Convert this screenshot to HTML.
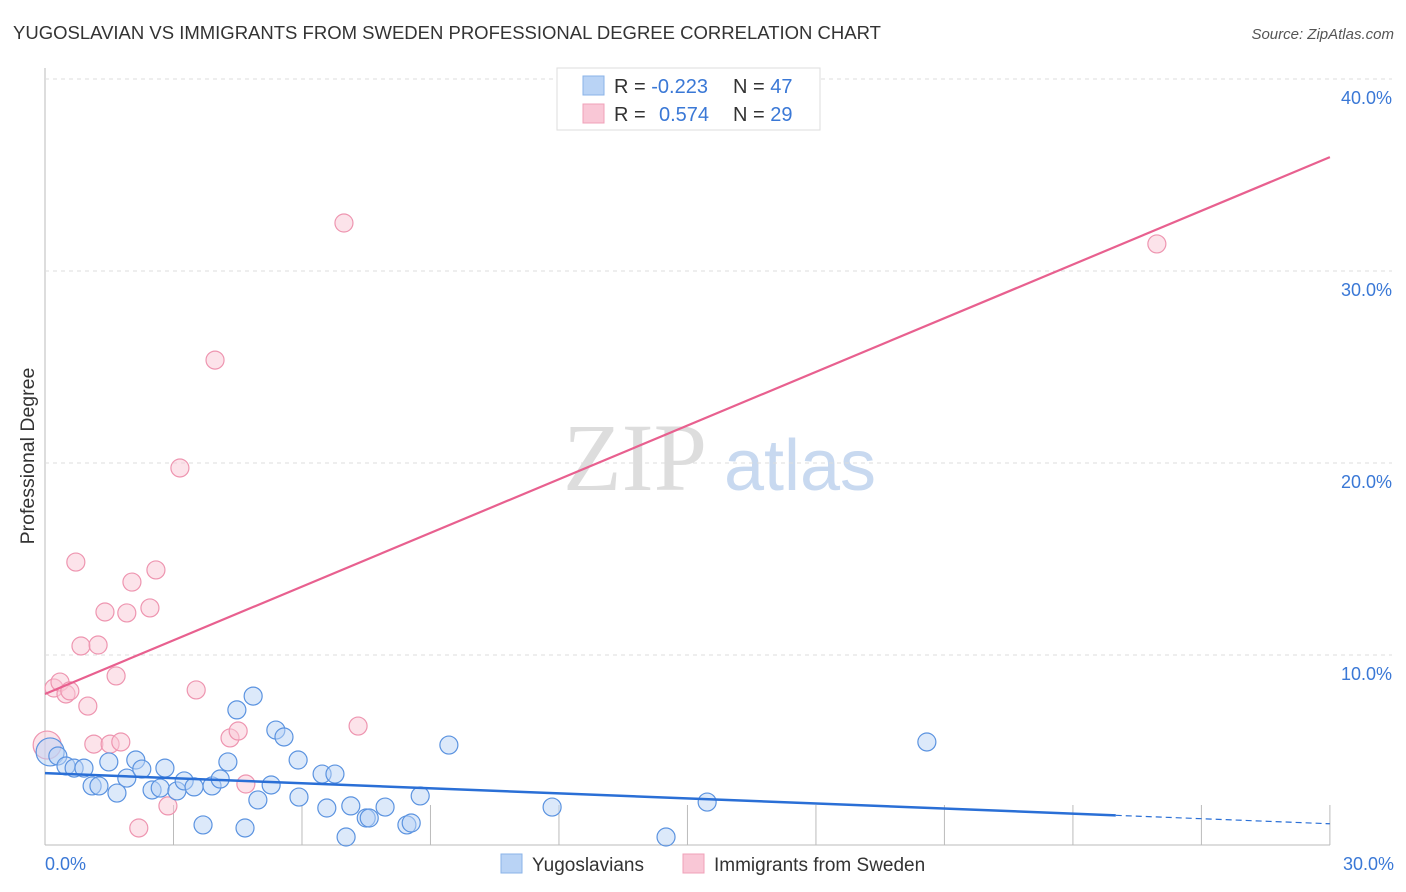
<!DOCTYPE html>
<html><head><meta charset="utf-8"><style>
body{margin:0;background:#fff;font-family:"Liberation Sans",sans-serif;}
svg{display:block}
</style></head><body>
<svg id="c" width="1406" height="892">
<text x="13" y="39" font-size="18.5" fill="#333">YUGOSLAVIAN VS IMMIGRANTS FROM SWEDEN PROFESSIONAL DEGREE CORRELATION CHART</text>
<text x="1394" y="39" font-size="15" fill="#555" font-style="italic" text-anchor="end">Source: ZipAtlas.com</text>
<text x="34" y="456" font-size="19.5" fill="#333" text-anchor="middle" transform="rotate(-90 34 456)">Professional Degree</text>
<g><text x="635" y="490" font-size="96" font-family="Liberation Serif,serif" fill="#ddd" text-anchor="middle">ZIP</text><text x="800" y="490" font-size="72" fill="#c8d9f0" text-anchor="middle">atlas</text></g>
<g id="grid"></g><g id="marks"></g>
<g>
<rect x="557" y="68" width="263" height="62" fill="#fff" stroke="#ddd"/>
<rect x="583" y="76" width="21" height="19" fill="#b9d3f5" stroke="#8ab3e8"/>
<rect x="583" y="104" width="21" height="19" fill="#f9c7d6" stroke="#f0a0b8"/>
<text x="614" y="93" font-size="20" fill="#333">R = <tspan fill="#3a78d6">-0.223</tspan><tspan x="733">N = </tspan><tspan fill="#3a78d6">47</tspan></text>
<text x="614" y="121" font-size="20" fill="#333">R = <tspan x="659" fill="#3a78d6">0.574</tspan><tspan x="733">N = </tspan><tspan fill="#3a78d6">29</tspan></text>
</g>
<g>
<rect x="501" y="854" width="21" height="19" fill="#b9d3f5" stroke="#8ab3e8"/>
<text x="532" y="871" font-size="19" fill="#333">Yugoslavians</text>
<rect x="683" y="854" width="21" height="19" fill="#f9c7d6" stroke="#f0a0b8"/>
<text x="714" y="871" font-size="19" fill="#333">Immigrants from Sweden</text>
</g>
<text x="45" y="870" font-size="18" fill="#3a78d6">0.0%</text>
<text x="1394" y="870" font-size="18" fill="#3a78d6" text-anchor="end">30.0%</text>
</svg>
<script>
const yTicks=[10,20,30,40];
const xTicks=[3,6,9,12,15,18,21,24,27,30];
const blueX=[0.12,0.30,0.49,0.68,0.91,1.10,1.26,1.49,1.68,1.91,2.12,2.26,2.50,2.69,2.80,3.08,3.25,3.48,3.69,3.90,4.09,4.27,4.48,4.67,4.86,4.97,5.28,5.39,5.58,5.91,5.93,6.47,6.58,6.77,7.03,7.14,7.50,7.57,7.94,8.45,8.55,8.76,9.43,11.84,14.50,15.46,20.59];
const blueY=[4.95,4.74,4.22,4.11,4.11,3.18,3.18,4.43,2.81,3.59,4.53,4.06,2.97,3.07,4.11,2.92,3.44,3.13,1.15,3.18,3.54,4.43,7.14,0.99,7.86,2.45,3.23,6.09,5.73,4.53,2.60,3.80,2.03,3.80,0.52,2.14,1.51,1.51,2.08,1.15,1.25,2.66,5.31,2.08,0.52,2.34,5.47];
const pinkX=[0.05,0.21,0.35,0.49,0.58,0.72,0.84,1.00,1.14,1.24,1.40,1.52,1.66,1.77,1.91,2.03,2.19,2.45,2.59,2.87,3.15,3.53,3.97,4.32,4.51,4.69,6.98,7.31,25.96];
const pinkY=[5.31,8.28,8.59,7.97,8.13,14.84,10.47,7.34,5.36,10.52,12.24,5.36,8.91,5.47,12.19,13.80,0.99,12.45,14.43,2.14,19.74,8.18,25.36,5.68,6.04,3.28,32.50,6.30,31.41];
const blueTrend=[3.85,-0.088];
const pinkTrend=[7.97,0.932];
const sx=v=>45+v*42.83, sy=v=>847-v*19.2;
const NS="http://www.w3.org/2000/svg";
function mk(t,a,p){const e=document.createElementNS(NS,t);for(const k in a)e.setAttribute(k,a[k]);p.appendChild(e);return e;}
const g=document.getElementById('grid'),m=document.getElementById('marks');
let ax=mk('line',{x1:45,y1:68,x2:45,y2:845,stroke:'#bbb'},g);


let bx=mk('line',{x1:45,y1:845,x2:1330,y2:845,stroke:'#bbb'},g);


yTicks.forEach(v=>{
 const l=mk('line',{x1:45,y1:sy(v),x2:1392,y2:sy(v),stroke:'#ddd','stroke-dasharray':'4 4'},g);
 
 
 const t=mk('text',{x:1392,y:sy(v)+25,'font-size':18,fill:'#3a78d6','text-anchor':'end'},g);t.textContent=v.toFixed(1)+'%';
 
 
});
xTicks.forEach(v=>{const l=mk('line',{x1:sx(v),y1:805,x2:sx(v),y2:845,stroke:'#bbb'},g);
 
 });
function pts(X,Y,fill,stroke,name){X.forEach((x,i)=>{const c=mk('circle',{cx:sx(x),cy:sy(Y[i]),r:i==0?14:9,fill:fill,'fill-opacity':0.5,stroke:stroke,'stroke-width':1.2},m);
 
 });}
pts(pinkX,pinkY,'#f9c7d6','#ee95b0','sweden-point');
pts(blueX,blueY,'#b9d3f5','#5b93e0','yugoslavian-point');
let pl=mk('line',{x1:sx(0),y1:sy(pinkTrend[0]),x2:sx(30),y2:sy(pinkTrend[0]+pinkTrend[1]*30),stroke:'#e8608f','stroke-width':2.2},m);


let bl=mk('line',{x1:sx(0),y1:sy(blueTrend[0]),x2:sx(25),y2:sy(blueTrend[0]+blueTrend[1]*25),stroke:'#2a6fd6','stroke-width':2.5},m);


let bd=mk('line',{x1:sx(25),y1:sy(blueTrend[0]+blueTrend[1]*25),x2:sx(30),y2:sy(blueTrend[0]+blueTrend[1]*30),stroke:'#2a6fd6','stroke-width':1.2,'stroke-dasharray':'6 4'},m);


</script>
</body></html>
